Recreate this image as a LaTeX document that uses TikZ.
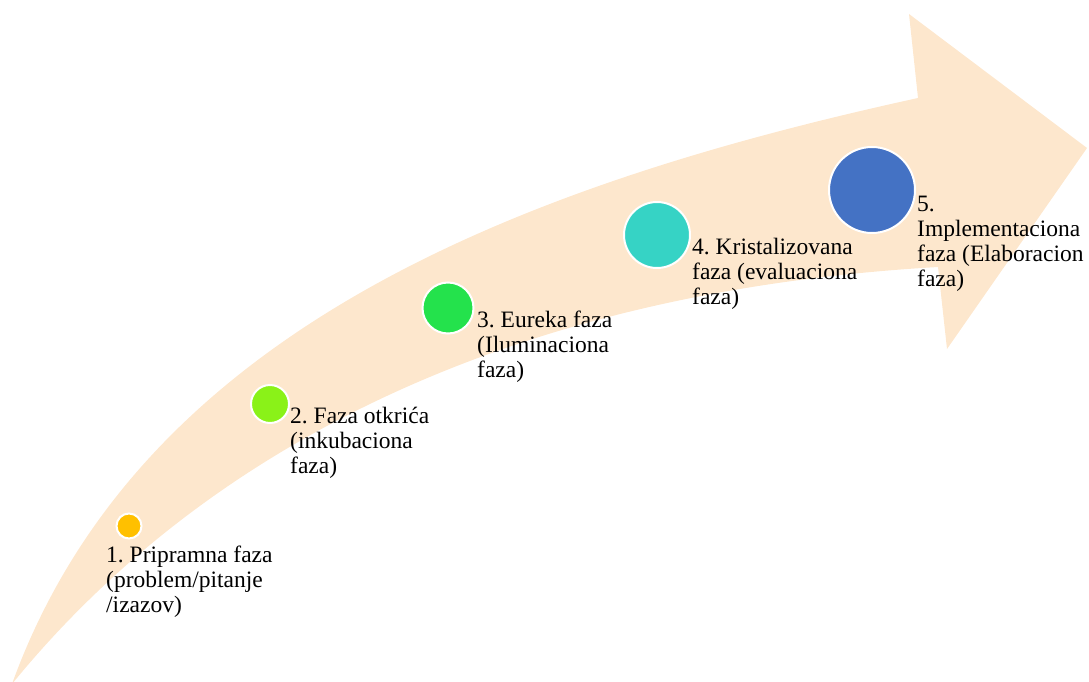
\documentclass[tikz,border=0pt]{standalone}
\usepackage{fontspec}
\setmainfont{Liberation Serif}
\frenchspacing
\begin{document}
\begin{tikzpicture}[x=1pt, y=-1pt,
  band/.style={fill=bandfill, draw=none},
  phase/.style={circle, draw=white, line width=2pt, inner sep=0pt},
  phaselabel/.style={anchor=base west, inner sep=0pt, font=\fontsize{23.5}{25}\selectfont}
]
\definecolor{bandfill}{RGB}{253,231,205}
\definecolor{ph1}{RGB}{255,192,0}
\definecolor{ph2}{RGB}{138,242,24}
\definecolor{ph3}{RGB}{36,226,76}
\definecolor{ph4}{RGB}{54,211,197}
\definecolor{ph5}{RGB}{68,114,196}

\useasboundingbox (0,0) rectangle (1089,682);

% curved arrow band
\path[band] (12,684)
  .. controls (140,330) and (520,185) .. (918,98)
  -- (909,14) -- (1087,148) -- (947,349) -- (938,267)
  .. controls (450,295) and (170,490) .. (12,684) -- cycle;

% phase markers
\node[phase, fill=ph1, minimum size=25pt] (c1) at (129,526) {};
\node[phase, fill=ph2, minimum size=38pt] (c2) at (270,404) {};
\node[phase, fill=ph3, minimum size=51pt] (c3) at (448,308) {};
\node[phase, fill=ph4, minimum size=66pt] (c4) at (657,235) {};
\node[phase, fill=ph5, minimum size=86pt] (c5) at (872,190) {};

% phase labels
\node[phaselabel] (l1) at (106,562) {\begin{tabular}[t]{@{}l@{}}1. Pripramna faza\\(problem/pitanje\\/izazov)\end{tabular}};
\node[phaselabel] (l2) at (290,423) {\begin{tabular}[t]{@{}l@{}}2. Faza otkrića\\(inkubaciona\\faza)\end{tabular}};
\node[phaselabel] (l3) at (477,327) {\begin{tabular}[t]{@{}l@{}}3. Eureka faza\\(Iluminaciona\\faza)\end{tabular}};
\node[phaselabel] (l4) at (692,254) {\begin{tabular}[t]{@{}l@{}}4. Kristalizovana\\faza (evaluaciona\\faza)\end{tabular}};
\node[phaselabel] (l5) at (917,211) {\begin{tabular}[t]{@{}l@{}}5.\\Implementaciona\\faza (Elaboracion\\faza)\end{tabular}};
\end{tikzpicture}
\end{document}
